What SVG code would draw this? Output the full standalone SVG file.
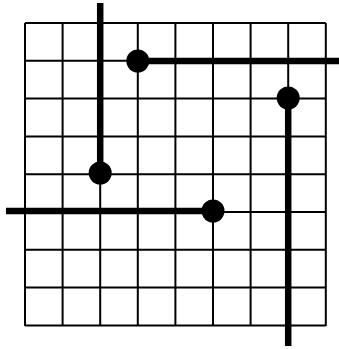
<svg xmlns="http://www.w3.org/2000/svg" width="339" height="349" viewBox="0 0 339 349">
<style>
.grid line{stroke:#000;stroke-width:2}
.wire{stroke:#000;stroke-width:6.5;fill:none}
.dot{fill:#000}
</style>
<rect width="339" height="349" fill="#fff"/>
<g id="grid" class="grid">
<line x1="25" y1="23" x2="25" y2="326"/>
<line x1="62.6" y1="23" x2="62.6" y2="326"/>
<line x1="100.2" y1="23" x2="100.2" y2="326"/>
<line x1="137.8" y1="23" x2="137.8" y2="326"/>
<line x1="175.4" y1="23" x2="175.4" y2="326"/>
<line x1="213" y1="23" x2="213" y2="326"/>
<line x1="250.6" y1="23" x2="250.6" y2="326"/>
<line x1="288.2" y1="23" x2="288.2" y2="326"/>
<line x1="325.8" y1="23" x2="325.8" y2="326"/>
<line x1="25" y1="23" x2="325.8" y2="23"/>
<line x1="25" y1="60.8" x2="325.8" y2="60.8"/>
<line x1="25" y1="98.6" x2="325.8" y2="98.6"/>
<line x1="25" y1="136.4" x2="325.8" y2="136.4"/>
<line x1="25" y1="174.2" x2="325.8" y2="174.2"/>
<line x1="25" y1="212" x2="325.8" y2="212"/>
<line x1="25" y1="249.8" x2="325.8" y2="249.8"/>
<line x1="25" y1="287.6" x2="325.8" y2="287.6"/>
<line x1="25" y1="325.4" x2="325.8" y2="325.4"/>
</g>
<g id="connectors">
<line class="wire" x1="100.2" y1="3" x2="100.2" y2="174"/>
<line class="wire" x1="137.8" y1="61" x2="339" y2="61"/>
<line class="wire" x1="288.2" y1="98.6" x2="288.2" y2="346"/>
<line class="wire" x1="6" y1="211" x2="213" y2="211"/>
</g>
<g id="node1"><circle class="dot" cx="100.2" cy="173" r="11.5"/></g>
<g id="node2"><circle class="dot" cx="137.8" cy="61" r="11.5"/></g>
<g id="node3"><circle class="dot" cx="288.2" cy="98" r="11.5"/></g>
<g id="node4"><circle class="dot" cx="213" cy="211" r="11.5"/></g>
</svg>
